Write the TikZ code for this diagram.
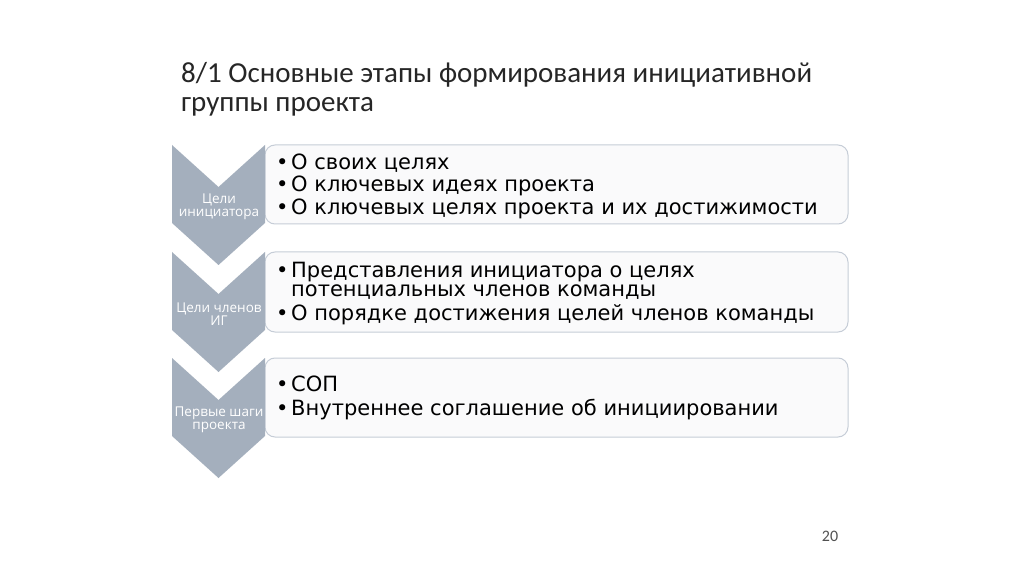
\documentclass[tikz,border=0pt]{standalone}
\usepackage{fontspec}
\newfontfamily\boxfont{DejaVu Sans}
\newfontfamily\titlefont{Carlito}
\newfontfamily\labfont{Open Sans}
\definecolor{chev}{HTML}{A4AFBD}
\definecolor{boxfill}{HTML}{FAFAFB}
\definecolor{boxline}{HTML}{C6CDD7}
\definecolor{titlecol}{HTML}{262626}
\tikzset{
  chevron/.style={fill=chev, draw=none},
  itembox/.style={fill=boxfill, draw=boxline, line width=1bp, rounded corners=10bp},
  lab/.style={font=\labfont\fontsize{13.5bp}{13bp}\selectfont, text=white, align=center, inner sep=0pt},
  item/.style={font=\boxfont\fontsize{21bp}{21bp}\selectfont, text=black, anchor=base west, inner sep=0pt},
  bul/.style={font=\boxfont\fontsize{21bp}{21bp}\selectfont, text=black, anchor=base west, inner sep=0pt},
  ttl/.style={font=\titlefont\fontsize{29bp}{29bp}\selectfont, text=titlecol, anchor=base west, inner sep=0pt}
}
\begin{document}
\begin{tikzpicture}[x=1bp,y=-1bp]
\useasboundingbox[fill=white] (0,0) rectangle (1024,574);
% title
\node[ttl] (t1) at (181,83) {8/1 Основные этапы формирования инициативной};
\node[ttl] (t2) at (181,112) {группы проекта};
% boxes
\foreach \t/\b in {145/224, 252/332, 358/437}{
  \path[itembox] (265,\t) -- (848,\t) -- (848,\b) -- (265,\b) -- cycle;
}
% chevrons
\foreach \t in {145,252,358}{
  \fill[chevron] (172,\t) -- (218.5,\t+42) -- (265,\t) -- (265,\t+78) -- (218.5,\t+120) -- (172,\t+78) -- cycle;
}
% labels
\node[lab] (l1) at (219,207) {Цели\\инициатора};
\node[lab] (l2) at (219,314) {Цели членов\\ИГ};
\node[lab] (l3) at (219,420) {Первые шаги\\проекта};
% box 1
\node[bul] (b11) at (276,170) {•};
\node[item] (i11) at (291,170) {О своих целях};
\node[bul] (b12) at (276,192) {•};
\node[item] (i12) at (291,192) {О ключевых идеях проекта};
\node[bul] (b13) at (276,215) {•};
\node[item] (i13) at (291,215) {О ключевых целях проекта и их достижимости};
% box 2
\node[bul] (b21) at (276,278) {•};
\node[item] (i21) at (291,278) {Представления инициатора о целях};
\node[item] (i22) at (291,297) {потенциальных членов команды};
\node[bul] (b23) at (276,320) {•};
\node[item] (i23) at (291,320) {О порядке достижения целей членов команды};
% box 3
\node[bul] (b31) at (276,391) {•};
\node[item] (i31) at (291,391) {СОП};
\node[bul] (b32) at (276,415) {•};
\node[item] (i32) at (291,415) {Внутреннее соглашение об инициировании};
% page number
\node[font=\titlefont\fontsize{16bp}{16bp}\selectfont, text=titlecol!80, anchor=base, inner sep=0pt] (pn) at (830,541) {20};
\end{tikzpicture}
\end{document}
